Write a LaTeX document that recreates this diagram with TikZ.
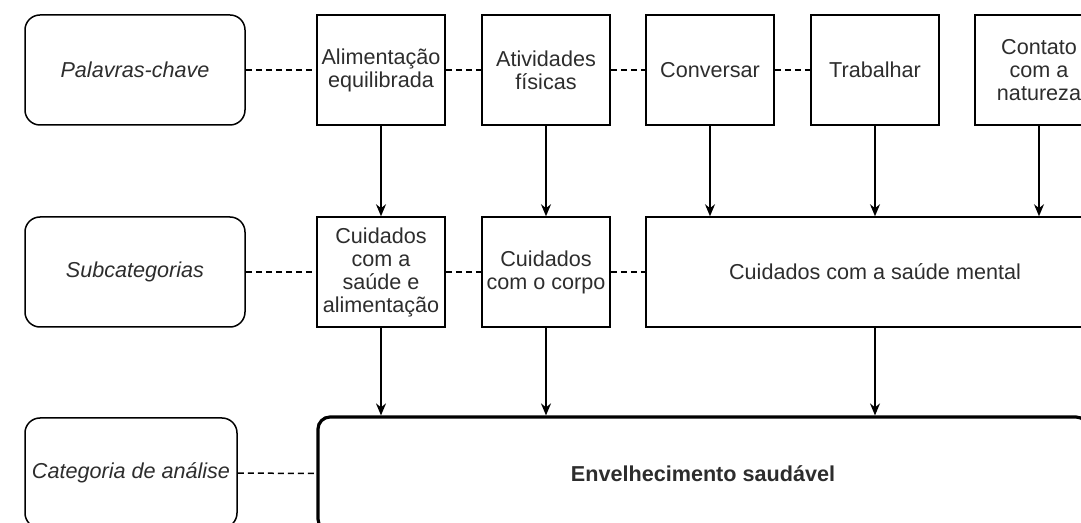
\documentclass[tikz,border=0pt]{standalone}
\usepackage{fontspec}
\setmainfont{Liberation Sans}
\usepackage{tikz}
\usetikzlibrary{positioning}
\usetikzlibrary{arrows.meta}
\tikzstyle{diagram} = [x = .5pt, y = -.5pt]
\definecolor{textColor}{RGB}{45,45,45}
\newcommand{\boxFont}{\fontsize{10.8}{11.5}\selectfont}
\tikzstyle{labelBox} = [draw, rounded corners = 7.5pt, line width = .75pt, minimum width = 110pt, minimum height = 55pt, font = \boxFont\itshape, text = textColor]
\tikzstyle{itemBox} = [draw, line width = .75pt, minimum width = 64pt, minimum height = 55pt, align = center, inner sep = 1pt, font = \boxFont, text = textColor]
\tikzstyle{mainBox} = [draw, rounded corners = 6pt, line width = 1.6pt, minimum width = 385pt, minimum height = 57pt, font = \boxFont\bfseries, text = textColor]
\tikzstyle{dashLine} = [dash pattern = on 3pt off 2pt, line width = .75pt]
\tikzstyle{arrowLine} = [-{Stealth[length = 6pt, width = 5pt]}, line width = .75pt]
\begin{document}
\begin{tikzpicture}[diagram]
  \path [use as bounding box] (0,0) rectangle (1081,523);
  \clip (0,0) rectangle (1081,523);
  % palavras-chave
  \node [labelBox] (keywords) at (135,70) {Palavras-chave};
  \node [itemBox] (food) at (381,70) {Alimentação\\equilibrada};
  \node [itemBox] (sport) at (546,70) {Atividades\\físicas};
  \node [itemBox] (talk) at (710,70) {Conversar};
  \node [itemBox] (work) at (875,70) {Trabalhar};
  \node [itemBox] (nature) at (1039,70) {Contato\\com a\\natureza};
  % subcategorias
  \node [labelBox] (subcats) at (135,272) {Subcategorias};
  \node [itemBox] (careFood) at (381,272) {Cuidados\\com a\\saúde e\\alimentação};
  \node [itemBox] (careBody) at (546,272) {Cuidados\\com o corpo};
  \node [itemBox, minimum width = 229pt] (careMind) at (875,272) {Cuidados com a saúde mental};
  % categoria
  \node [labelBox, minimum width = 106pt] (category) at (131,473) {Categoria de análise};
  \node [mainBox] (ageing) at (703,474) {Envelhecimento saudável};
  \draw [dashLine] (keywords) -- (food);
  \draw [dashLine] (food) -- (sport);
  \draw [dashLine] (sport) -- (talk);
  \draw [dashLine] (talk) -- (work);
  \draw [dashLine] (subcats) -- (careFood);
  \draw [dashLine] (careFood) -- (careBody);
  \draw [dashLine] (careBody) -- (careMind);
  \draw [dashLine] (category) -- (ageing);
  \draw [arrowLine] (food) -- (careFood);
  \draw [arrowLine] (sport) -- (careBody);
  \foreach \src in {talk, work, nature} {
    \draw [arrowLine] (\src) -- (\src |- careMind.north);
  }
  \foreach \src in {careFood, careBody, careMind} {
    \draw [arrowLine] (\src) -- (\src |- ageing.north);
  }
\end{tikzpicture}
\end{document}
